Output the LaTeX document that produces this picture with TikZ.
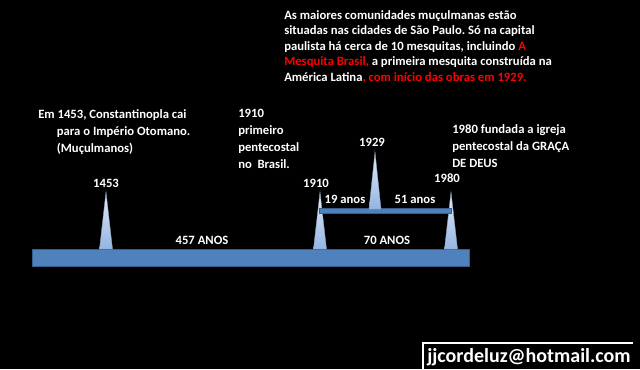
\documentclass[tikz,border=0pt]{standalone}
\usepackage{fontspec}
\setmainfont{Carlito}
\usepackage{xcolor}
\usetikzlibrary{positioning}
\definecolor{barblue}{HTML}{4F81BD}
\definecolor{barline}{HTML}{385D8A}
\definecolor{spiketop}{HTML}{E4EDF9}
\definecolor{spikebot}{HTML}{94B4E2}
\definecolor{notered}{HTML}{FF0000}
\frenchspacing

\begin{document}
\begin{tikzpicture}[
    x=0.75pt, y=-0.75pt,
    bar/.style={draw=barline, fill=barblue, line width=0.6pt},
    spike/.style={draw=barline!60, line width=0.3pt, top color=spiketop, bottom color=spikebot},
    yr/.style={text=white, font=\bfseries\fontsize{9.5}{11}\selectfont, inner sep=0pt},
    note/.style={text=white, font=\bfseries\fontsize{9.5}{12.75}\selectfont,
        align=left, inner sep=0pt, anchor=north west},
    mail/.style={text=white, font=\bfseries\fontsize{15}{16}\selectfont, inner sep=0pt}
]
    \fill[black] (0,0) rectangle (640,369);
    \useasboundingbox (0,0) rectangle (640,369);

    % timeline
    \draw[bar] (32,249) rectangle (469,266);
    \foreach \x in {106, 320, 451}
        \draw[spike] (\x-6.5,249) -- (\x,192) -- (\x+6.5,249) -- cycle;
    \draw[bar] (319,208) rectangle (451,213);
    \draw[spike] (369,209) -- (375,152) -- (381,209) -- cycle;

    % years
    \node[yr] (y1453) at (106,183) {1453};
    \node[yr] (y1910) at (316,183) {1910};
    \node[yr] (y1929) at (372,142) {1929};
    \node[yr] (y1980) at (447,178) {1980};

    % intervals
    \node[yr] (d457) at (202,240) {457 ANOS};
    \node[yr] (d70) at (387,240) {70 ANOS};
    \node[yr] (d19) at (345,199) {19 anos};
    \node[yr] (d51) at (415,199) {51 anos};

    % notes
    \node[note] (n1453) at (38,109) {Em 1453, Constantinopla cai\\
        \hspace*{14pt}para o Império Otomano.\\
        \hspace*{14pt}(Muçulmanos)};
    \node[note] (n1910) at (238,109) {1910\\primeiro\\pentecostal\\no\ \ Brasil.};
    \node[note] (n1980) at (452,124) {1980 fundada a igreja\\pentecostal da GRAÇA\\DE DEUS};
    \node[note, font=\bfseries\fontsize{9.5}{11.6}\selectfont] (n1929) at (284,10)
        {As maiores comunidades muçulmanas estão\\
        situadas nas cidades de São Paulo. Só na capital\\
        paulista há cerca de 10 mesquitas, incluindo \textcolor{notered}{A}\\
        \textcolor{notered}{Mesquita Brasil,} a primeira mesquita construída na\\
        América Latina\textcolor{notered}{, com início das obras em 1929.}};

    % signature
    \node[mail] (mail) at (529,357) {jjcordeluz@hotmail.com};
    \draw[white, line width=0.8pt] (423,369) |- (633,343);
\end{tikzpicture}
\end{document}
